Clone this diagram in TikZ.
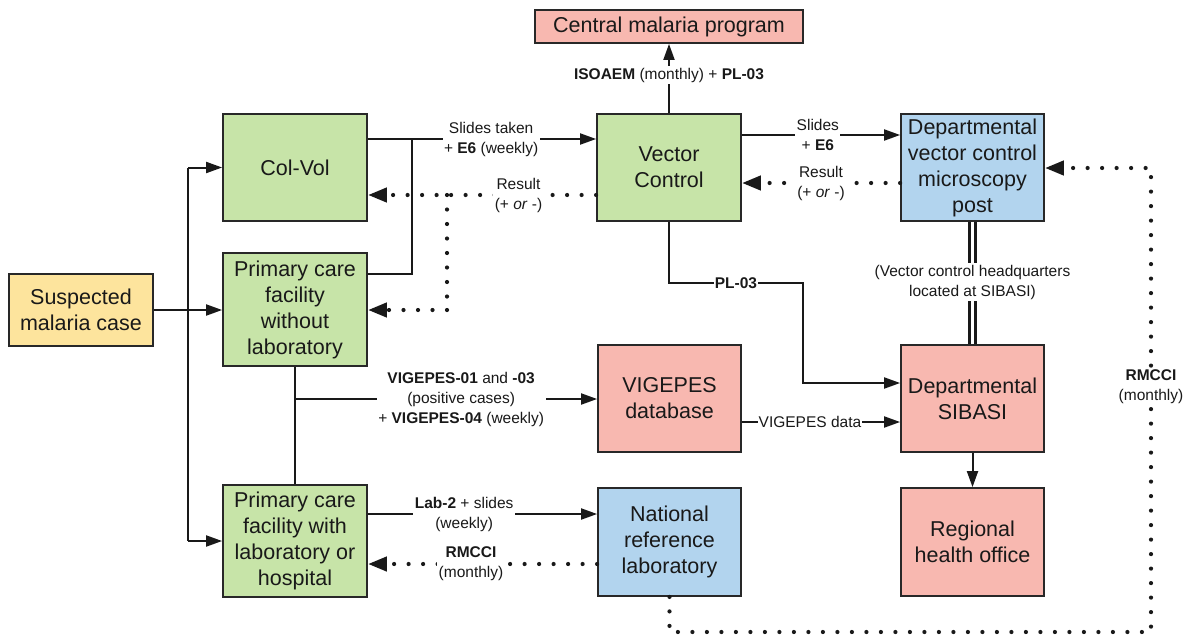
\documentclass[tikz,border=0pt]{standalone}
\usepackage{fontspec}
\setmainfont{Liberation Sans}
\usetikzlibrary{arrows.meta}
\definecolor{boxgreen}{RGB}{199,228,168}
\definecolor{boxpink}{RGB}{248,184,176}
\definecolor{boxblue}{RGB}{178,212,238}
\definecolor{boxyellow}{RGB}{253,228,157}
\definecolor{edgegray}{RGB}{40,40,40}
\definecolor{inkgray}{RGB}{25,25,25}
\begin{document}
\begin{tikzpicture}[x=1pt,y=-1pt,
  box/.style={draw=edgegray, line width=1.8pt, align=center, text=inkgray,
    font=\fontsize{21.5}{26}\selectfont, inner sep=0pt,
    minimum width=144pt, minimum height=107pt},
  ln/.style={draw=inkgray, line width=2pt},
  arr/.style={ln, -{Triangle[length=16pt,width=11pt]}},
  dots/.style={draw=inkgray, line width=4.2pt, line cap=round,
    dash pattern=on 0pt off 14.5pt},
  dotarr/.style={dots, -{Triangle[length=19pt,width=14pt]}},
  dbl/.style={draw=inkgray, line width=2.6pt, double=white, double distance=3.5pt},
  lbl/.style={fill=white, align=center, inner sep=1.5pt, text=inkgray,
    font=\fontsize{15.5}{20}\selectfont},
  lblin/.style={lbl, inner sep=1pt}]
\useasboundingbox[fill=white] (0,0) rectangle (1185,635);

% boxes
\node[box, fill=boxpink, minimum width=268pt, minimum height=33pt] (central) at (669,26.5) {Central malaria program};
\node[box, fill=boxyellow, minimum height=72pt] (susp) at (81,310) {Suspected\\malaria case};
\node[box, fill=boxgreen] (colvol) at (295,167.5) {Col-Vol};
\node[box, fill=boxgreen, minimum height=113pt] (pcfn) at (295,309.5) {Primary care\\facility\\without\\laboratory};
\node[box, fill=boxgreen, minimum height=112pt] (pcfw) at (295,541) {Primary care\\facility with\\laboratory or\\hospital};
\node[box, fill=boxgreen] (vc) at (669,167.5) {Vector\\Control};
\node[box, fill=boxblue, minimum width=143pt] (dv) at (972.5,167.5) {Departmental\\vector control\\microscopy\\post};
\node[box, fill=boxpink, minimum width=143pt] (vig) at (669.5,398.5) {VIGEPES\\database};
\node[box, fill=boxpink, minimum width=143pt] (sib) at (972.5,398.5) {Departmental\\SIBASI};
\node[box, fill=boxblue, minimum width=143pt, minimum height=108pt] (nrl) at (669.5,542) {National\\reference\\laboratory};
\node[box, fill=boxpink, minimum width=143pt, minimum height=108pt] (rho) at (972.5,542) {Regional\\health office};

% helper points
\coordinate (tr) at (188,310);
\coordinate (jA) at (412,139);
\coordinate (jB) at (412,274);
\coordinate (jC) at (447,195);
\coordinate (jD) at (447,310);
\coordinate (yS) at (0,135);
\coordinate (yR) at (0,183);
\coordinate (p1) at (669,283);
\coordinate (p2) at (803,283);
\coordinate (p3) at (803,383);
\coordinate (b1) at (295,399);
\coordinate (yV) at (0,422);
\coordinate (yL) at (0,514);
\coordinate (yM) at (0,564);
\coordinate (r1) at (669.5,632);
\coordinate (r2) at (1151,632);
\coordinate (r3) at (1151,168);

% suspected case branches
\draw[arr] (susp.east) -- (susp.east -| pcfn.west);
\draw[ln] (tr |- colvol.west) -- (tr |- pcfw.west);
\draw[arr] (tr |- colvol.west) -- (colvol.west);
\draw[arr] (tr |- pcfw.west) -- (pcfw.west);

% slides to vector control
\draw[ln] (colvol.east |- jA) -- (jA);
\draw[ln] (pcfn.east |- jB) -- (jB) -- (jA);
\draw[arr] (jA) -- node[lbl, pos=0.43] {Slides taken\\+ \textbf{E6} (weekly)} (vc.west |- jA);

% results back
\draw[dots] (jC) -- (jD);
\draw[dotarr] (vc.west |- jC) -- node[lbl, pos=0.34] {Result\\(+ \textit{or} -)} (colvol.east |- jC);
\draw[dotarr] (jD) -- (pcfn.east |- jD);

% vector control to central program
\draw[arr] (vc.north) -- node[lbl, pos=0.55] {\textbf{ISOAEM} (monthly) + \textbf{PL-03}} (central.south);

% vector control and microscopy post
\draw[arr] (vc.east |- yS) -- node[lbl, pos=0.48] {Slides\\+ \textbf{E6}} (dv.west |- yS);
\draw[dotarr] (dv.west |- yR) -- node[lbl, pos=0.5] {Result\\(+ \textit{or} -)} (vc.east |- yR);

% PL-03 to SIBASI
\draw[arr] (vc.south) -- (p1) -- node[lblin] {\textbf{PL-03}} (p2) -- (p3) -- (sib.west |- p3);

% headquarters link
\draw[dbl] (dv.south) -- (sib.north);
\node[lbl] (hq) at (972.5,282) {(Vector control headquarters\\located at SIBASI)};

% VIGEPES reporting
\draw[ln] (pcfn.south) -- (pcfw.north);
\draw[arr] (b1) -- node[lbl, pos=0.55] {\textbf{VIGEPES-01} and \textbf{-03}\\(positive cases)\\+ \textbf{VIGEPES-04} (weekly)} (vig.west |- b1);
\draw[arr] (vig.east |- yV) -- node[lblin, pos=0.43] {VIGEPES data} (sib.west |- yV);
\draw[arr] (sib.south) -- (rho.north);

% national reference laboratory
\draw[arr] (pcfw.east |- yL) -- node[lbl, pos=0.42] {\textbf{Lab-2} + slides\\(weekly)} (nrl.west |- yL);
\draw[dotarr] (nrl.west |- yM) -- node[lbl, pos=0.55] {\textbf{RMCCI}\\(monthly)} (pcfw.east |- yM);
\draw[dotarr] (nrl.south) -- (r1) -- (r2) -- (r3) -- (dv.east |- r3);
\node[lbl] (rm) at (1151,387) {\textbf{RMCCI}\\(monthly)};
\end{tikzpicture}
\end{document}
